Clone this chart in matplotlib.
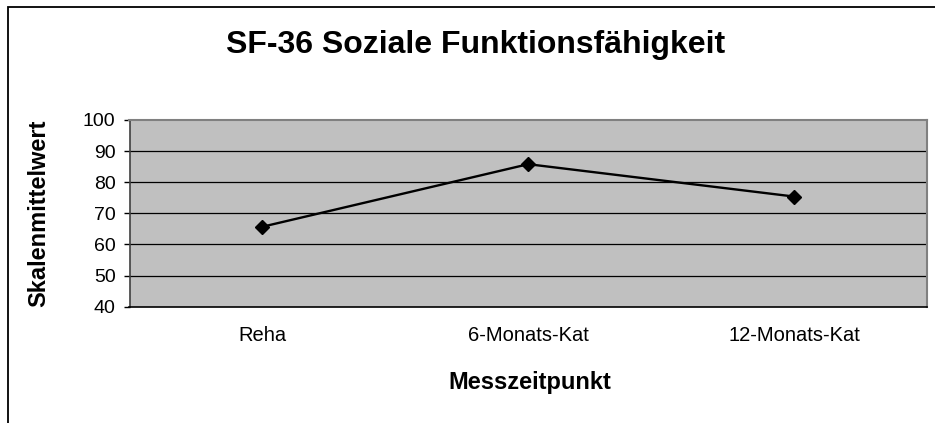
import matplotlib
matplotlib.use("Agg")
import matplotlib.pyplot as plt
from matplotlib.patches import Rectangle

categories = ["Reha", "6-Monats-Kat", "12-Monats-Kat"]
values = [65.7, 85.8, 75.4]
yticks = [40, 50, 60, 70, 80, 90, 100]

plt.rcParams['font.family'] = ['Liberation Sans', 'DejaVu Sans']

W, H = 935, 423
fig = plt.figure(figsize=(W / 100, H / 100), dpi=100)

# figure border (left and top visible)
fig.patches.append(Rectangle((8 / W, -0.2), 1.2, (H - 7) / H + 0.2,
                             transform=fig.transFigure, fill=False,
                             edgecolor='black', linewidth=1.3, zorder=0))

ax = fig.add_axes([129.5 / W, (H - 306.7) / H, (927 - 129.5) / W, (306.7 - 120) / H])
ax.set_facecolor('#C0C0C0')

x = list(range(len(categories)))
ax.plot(x, values, color='black', linewidth=1.7, marker='D', markersize=7.2,
        markerfacecolor='black', markeredgecolor='black', zorder=3)

ax.set_xlim(-0.5, len(categories) - 0.5)
ax.set_ylim(40, 100)
ax.set_yticks(yticks)
ax.set_xticks(x)
ax.set_xticklabels(categories)

for yv in yticks[1:-1]:
    ax.axhline(yv, color='black', linewidth=0.9, zorder=1)

for s in ['top', 'right']:
    ax.spines[s].set_color('#808080')
    ax.spines[s].set_linewidth(1.5)
ax.spines['left'].set_color('#404040')
ax.spines['left'].set_linewidth(1.2)
ax.spines['bottom'].set_color('black')
ax.spines['bottom'].set_linewidth(1.2)

ax.tick_params(axis='y', length=4, width=1, pad=6, labelsize=14, direction='out')
ax.tick_params(axis='x', length=0, pad=14, labelsize=14.5)

ax.set_ylabel("Skalenmittelwert", fontsize=17, fontweight='bold')
ax.yaxis.set_label_coords((50 - 129.5) / (927 - 129.5), 0.5)

fig.text(530 / W, (H - 389.3) / H, "Messzeitpunkt", fontsize=17, fontweight='bold',
         ha='center', va='baseline')
fig.text(475.5 / W, (H - 53) / H, "SF-36 Soziale Funktionsfähigkeit", fontsize=23,
         fontweight='bold', ha='center', va='baseline')

fig.savefig("out.png", dpi=100)
